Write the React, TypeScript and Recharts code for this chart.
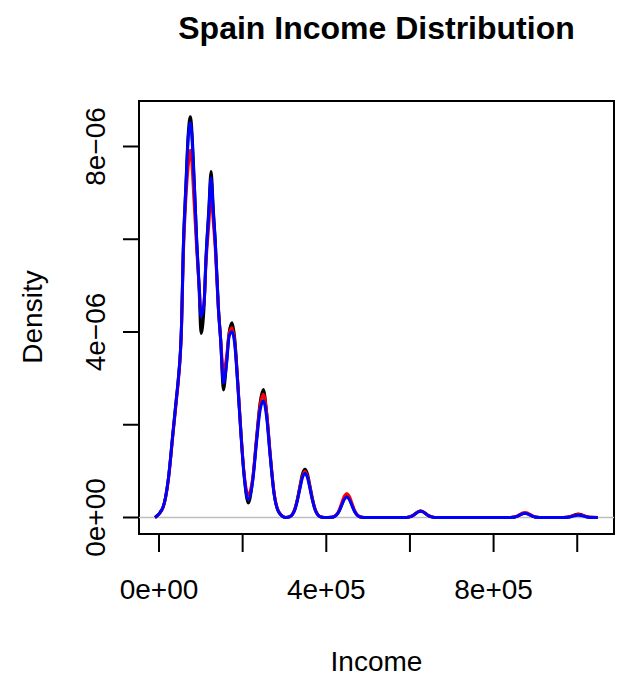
import { LineChart, Line, XAxis, YAxis, ReferenceLine, ReferenceArea } from "recharts";

// income grid (euros)
const incomes = [
  // main body
  -9500, 10000, 22000, 34000, 42000, 46000, 54000, 58000, 64500, 70000,
  75000, 84500, 90000, 96000, 100500, 107500, 112500, 119000, 124500, 130000,
  134500, 142000, 147500, 154000, 162000, 167500, 174500, 181500, 188000, 195500,
  203000, 213500, 224000, 233500, 241500, 249500, 257500, 265500, 275000, 287500,
  303500,
  // bump near 350k
  313000, 319000, 325000, 331000, 337000, 343000, 349000, 355000, 361000, 367000,
  373000, 379000, 385000, 395000,
  // bump near 450k
  413000, 419000, 425000, 431000, 437000, 443000, 449000, 455000, 461000, 467000,
  473000, 479000, 485000, 495000,
  // bump near 625k
  589500, 595500, 601500, 607500, 613500, 619500, 625500, 631500, 637500, 643500,
  649500, 655500, 661500,
  // bump near 875k
  839000, 845000, 851000, 857000, 863000, 869000, 875000, 881000, 887000, 893000,
  899000, 905000, 911000,
  // bump near 1M
  966500, 972500, 978500, 984500, 990500, 996500, 1002500, 1008500, 1014500, 1020500,
  1026500, 1032500, 1049000,
];

// densities, in units of 1e-06
const densBlack = [
  0, 0.23, 0.81, 1.89, 2.61, 2.97, 4.19, 5.77, 7.21, 8.29,
  8.64, 7.21, 5.98, 4.91, 3.97, 4.5, 5.62, 6.63, 7.46, 6.63,
  5.98, 4.55, 3.83, 2.75, 3.4, 3.98, 4.2, 3.83, 2.97, 1.89,
  0.96, 0.31, 0.81, 1.74, 2.46, 2.76, 2.25, 1.39, 0.53, 0.1,
  0,
  0.02, 0.07, 0.19, 0.4, 0.68, 0.94, 1.04, 0.94, 0.68, 0.4,
  0.19, 0.07, 0.02, 0,
  0.005, 0.02, 0.062, 0.147, 0.28, 0.405, 0.46, 0.405, 0.28, 0.147,
  0.062, 0.02, 0.005, 0,
  0, 0.006, 0.019, 0.045, 0.085, 0.123, 0.14, 0.123, 0.085, 0.045,
  0.019, 0.006, 0,
  0, 0.004, 0.012, 0.029, 0.055, 0.079, 0.09, 0.079, 0.055, 0.029,
  0.012, 0.004, 0,
  0, 0.003, 0.01, 0.024, 0.046, 0.066, 0.075, 0.066, 0.046, 0.024,
  0.01, 0.003, 0,
];
const densRed = [
  0, 0.22, 0.78, 1.84, 2.55, 2.91, 4.12, 5.6, 6.9, 7.6,
  7.92, 6.7, 5.8, 5.0, 4.43, 4.6, 5.5, 6.3, 6.95, 6.35,
  5.8, 4.5, 3.85, 3.14, 3.5, 3.95, 4.09, 3.75, 2.95, 1.9,
  1.0, 0.49, 0.85, 1.7, 2.4, 2.66, 2.25, 1.42, 0.55, 0.11,
  0,
  0.02, 0.07, 0.18, 0.38, 0.65, 0.89, 0.99, 0.89, 0.65, 0.38,
  0.18, 0.07, 0.02, 0,
  0.006, 0.023, 0.07, 0.166, 0.317, 0.458, 0.52, 0.458, 0.317, 0.166,
  0.07, 0.023, 0.006, 0,
  0, 0.006, 0.019, 0.045, 0.085, 0.123, 0.14, 0.123, 0.085, 0.045,
  0.019, 0.006, 0,
  0, 0.005, 0.015, 0.035, 0.067, 0.097, 0.11, 0.097, 0.067, 0.035,
  0.015, 0.005, 0,
  0, 0.003, 0.009, 0.021, 0.04, 0.057, 0.065, 0.057, 0.04, 0.021,
  0.009, 0.003, 0,
];
const densBlue = [
  0, 0.23, 0.8, 1.88, 2.6, 2.96, 4.18, 5.75, 7.15, 8.2,
  8.51, 7.15, 6.0, 5.0, 4.33, 4.6, 5.6, 6.55, 7.32, 6.55,
  5.95, 4.5, 3.8, 2.9, 3.35, 3.9, 4.01, 3.7, 2.9, 1.85,
  0.95, 0.39, 0.78, 1.65, 2.3, 2.52, 2.15, 1.36, 0.52, 0.1,
  0,
  0.02, 0.06, 0.17, 0.37, 0.62, 0.86, 0.95, 0.86, 0.62, 0.37,
  0.17, 0.06, 0.02, 0,
  0.005, 0.019, 0.059, 0.141, 0.268, 0.387, 0.44, 0.387, 0.268, 0.141,
  0.059, 0.019, 0.005, 0,
  0, 0.006, 0.018, 0.043, 0.082, 0.119, 0.135, 0.119, 0.082, 0.043,
  0.018, 0.006, 0,
  0, 0.004, 0.012, 0.029, 0.055, 0.079, 0.09, 0.079, 0.055, 0.029,
  0.012, 0.004, 0,
  0, 0.002, 0.007, 0.016, 0.031, 0.044, 0.05, 0.044, 0.031, 0.016,
  0.007, 0.002, 0,
];

const xTicks = [0, 200000, 400000, 600000, 800000, 1000000];
const xTickLabels = ["0e+00", "", "4e+05", "", "8e+05", ""];
const yTicks = [0, 2, 4, 6, 8];
const yTickLabels = ["0e+00", "", "4e\u221206", "", "8e\u221206"];

const xDomain = [-47800, 1087900];
const yDomain = [-0.356, 8.981];

const FONT = '"Liberation Sans", Arial, Helvetica, sans-serif';

const data = incomes.map((income, i) => ({
  income,
  black: densBlack[i],
  red: densRed[i],
  blue: densBlue[i],
}));

function YTick(props: any) {
  const { x, y, payload } = props;
  const label = yTickLabels[yTicks.indexOf(payload.value)];
  const cx = x - 28;
  return (
    <text
      x={cx}
      y={y}
      dy="0.36em"
      transform={`rotate(-90 ${cx} ${y})`}
      textAnchor="middle"
      fontSize={28}
      fontFamily={FONT}
      fill="#000"
    >
      {label}
    </text>
  );
}

export default function App() {
  return (
    <div style={{ position: "absolute", left: 0, top: 0, width: 626, height: 679, background: "#fff", fontFamily: FONT }}>
      <div style={{ position: "absolute", top: 10, left: 139, width: 475, textAlign: "center", fontSize: 32, fontWeight: "bold" }}>
        Spain Income Distribution
      </div>
      <div style={{ position: "absolute", top: 646, left: 139, width: 475, textAlign: "center", fontSize: 28 }}>
        Income
      </div>
      <div
        style={{
          position: "absolute",
          left: 33,
          top: 317,
          fontSize: 28,
          transform: "translate(-50%, -50%) rotate(-90deg)",
          whiteSpace: "nowrap",
        }}
      >
        Density
      </div>
      <LineChart
        width={626}
        height={679}
        data={data}
        margin={{ top: 101, right: 12, left: 0, bottom: 0 }}
      >
        <XAxis
          dataKey="income"
          type="number"
          domain={xDomain}
          ticks={xTicks}
          allowDataOverflow
          axisLine={false}
          tickLine={{ stroke: "#000", strokeWidth: 2 }}
          tickSize={18}
          tickMargin={27}
          height={145}
          interval={0}
          tickFormatter={(v: number) => xTickLabels[xTicks.indexOf(v)]}
          tick={{ fill: "#000", fontSize: 28, fontFamily: FONT }}
        />
        <YAxis
          type="number"
          domain={yDomain}
          ticks={yTicks}
          allowDataOverflow
          axisLine={false}
          tickLine={{ stroke: "#000", strokeWidth: 2 }}
          tickSize={16}
          tickMargin={0}
          width={139}
          interval={0}
          tick={<YTick />}
        />
        <ReferenceLine y={0} stroke="#bebebe" strokeWidth={1.5} />
        <Line type="monotone" dataKey="black" stroke="#000000" strokeWidth={3} dot={false} activeDot={false} isAnimationActive={false} />
        <Line type="monotone" dataKey="red" stroke="#ff0000" strokeWidth={3} dot={false} activeDot={false} isAnimationActive={false} />
        <Line type="monotone" dataKey="blue" stroke="#0000ff" strokeWidth={3} dot={false} activeDot={false} isAnimationActive={false} />
        <ReferenceArea
          x1={xDomain[0]}
          x2={xDomain[1]}
          y1={yDomain[0]}
          y2={yDomain[1]}
          fill="none"
          stroke="#000"
          strokeWidth={2}
          ifOverflow="visible"
        />
      </LineChart>
    </div>
  );
}
